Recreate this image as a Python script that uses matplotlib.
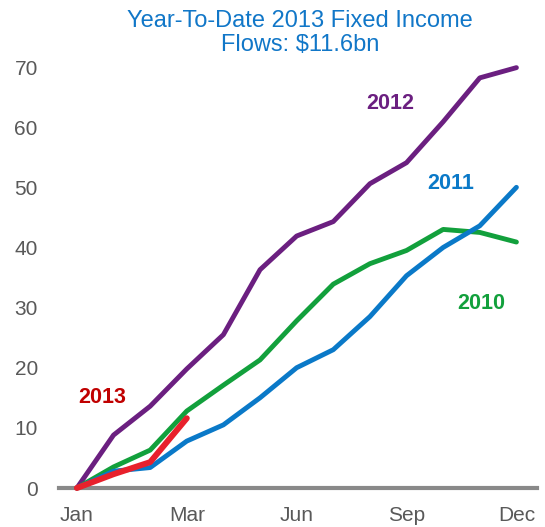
import numpy as np
import matplotlib.pyplot as plt

plt.rcParams['font.family'] = ['Liberation Sans', 'DejaVu Sans']

months = np.arange(13)
tick_pos = [0, 3, 6, 9, 12]
tick_labels = ['Jan', 'Mar', 'Jun', 'Sep', 'Dec']

flows_2012 = [0, 8.8, 13.6, 19.8, 25.5, 36.3, 41.9, 44.3, 50.6, 54.1, 60.9, 68.2, 69.9]
flows_2011 = [0, 2.8, 3.4, 7.8, 10.5, 15.0, 20.0, 23.0, 28.5, 35.3, 40.0, 43.6, 50.0]
flows_2010 = [0, 3.5, 6.3, 12.8, 17.1, 21.3, 27.8, 33.9, 37.3, 39.5, 43.0, 42.5, 40.9]
flows_2013 = [0, 2.3, 4.3, 11.6]

purple = '#6b1f80'
blue = '#0a79c8'
green = '#12a03c'
red = '#e8212c'

fig = plt.figure(figsize=(5.45, 5.27), dpi=100)
ax = fig.add_axes([0.1075, 0.074, 0.877, 0.8216])

ax.plot(months, flows_2012, color=purple, lw=3.5, solid_capstyle='round', clip_on=False, zorder=3)
ax.plot(months, flows_2010, color=green, lw=3.5, solid_capstyle='round', clip_on=False, zorder=3)
ax.plot(months, flows_2011, color=blue, lw=3.5, solid_capstyle='round', clip_on=False, zorder=3)
ax.plot(months[:len(flows_2013)], flows_2013, color=red, lw=4.3,
        solid_capstyle='round', clip_on=False, zorder=4)

# series labels
lab = dict(fontsize=15.5, fontweight='bold', ha='center', va='center')
ax.text(8.55, 64.0, '2012', color=purple, **lab)
ax.text(10.2, 50.7, '2011', color=blue, **lab)
ax.text(11.05, 30.7, '2010', color=green, **lab)
ax.text(0.7, 15.1, '2013', color='#c00000', **lab)

ax.set_xlim(-0.5, 12.55)
ax.set_ylim(0, 72)
ax.set_xticks(tick_pos)
ax.set_xticklabels(tick_labels)
ax.set_yticks(np.arange(0, 71, 10))
ax.tick_params(length=0, labelsize=15, labelcolor='#595959')
ax.tick_params(axis='y', pad=15)
ax.tick_params(axis='x', pad=13)
for s in ['top', 'right', 'left']:
    ax.spines[s].set_visible(False)
ax.spines['bottom'].set_color('#898989')
ax.spines['bottom'].set_linewidth(3)

fig.text(0.55, 0.937, 'Year-To-Date 2013 Fixed Income\nFlows: $11.6bn', color='#1177c8',
         fontsize=17, ha='center', va='center', linespacing=1.15)

fig.savefig('out.png', dpi=100)
